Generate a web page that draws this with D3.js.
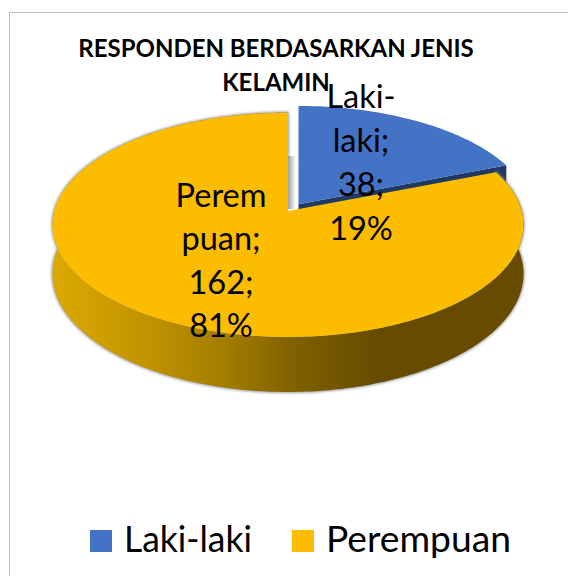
<!DOCTYPE html>
<html>
<head>
<meta charset="utf-8">
<script src="https://cdnjs.cloudflare.com/ajax/libs/d3/7.8.5/d3.min.js"></script>
<style>
    html, body { margin: 0; padding: 0; background: #fff; overflow: hidden; }
    text { font-family: Lato, "Open Sans", sans-serif; fill: #000; }
</style>
</head>
<body>
<div id="chart"></div>
<script>
// chart data
var categories = ["Laki-laki", "Perempuan"];
var counts = [38, 162];
var titleLines = ["RESPONDEN BERDASARKAN JENIS", "KELAMIN"];
// data labels wrap the same way the original chart does
var labelLines = [["Laki-", "laki;", "38;", "19%"], ["Perem", "puan;", "162;", "81%"]];

var width = 568, height = 576;

// pie geometry (tilted disc with a bit of perspective)
var cx = 288, cy = 211;
var radiusX = 233.7, radiusY = 110.4, perspective = 0.1235, depth = 48.2;
var explode = { x: 10.5, y: -6.8 };

var colorTop = ["#4472C4", "#FCBD00"];
var colorCut = "#203864";

var svg = d3.select("#chart").append("svg")
    .attr("width", width)
    .attr("height", height)
    .style("display", "block");

// border, right and bottom edges run off the picture
svg.append("rect")
    .attr("x", 9.5).attr("y", 12.5)
    .attr("width", width + 20).attr("height", height + 20)
    .attr("fill", "#fff")
    .attr("stroke", "#bfbfbf")
    .attr("stroke-width", 1);

var defs = svg.append("defs");

var sideGrad = defs.append("linearGradient")
    .attr("id", "sideGrad")
    .attr("gradientUnits", "userSpaceOnUse")
    .attr("x1", 52).attr("x2", 524).attr("y1", 0).attr("y2", 0);
[[0, "#dca900"], [0.17, "#c59700"], [0.35, "#a67f00"], [0.52, "#7f6000"], [0.69, "#664b00"], [1, "#664b00"]]
    .forEach(function(d) {
        sideGrad.append("stop").attr("offset", d[0]).attr("stop-color", d[1]);
    });

var gapGrad = defs.append("linearGradient").attr("id", "gapGrad");
gapGrad.append("stop").attr("offset", 0).attr("stop-color", "#a0a0a0");
gapGrad.append("stop").attr("offset", 1).attr("stop-color", "#ffffff");

defs.append("filter").attr("id", "soft")
    .attr("x", "-5%").attr("y", "-5%").attr("width", "110%").attr("height", "110%")
    .append("feGaussianBlur").attr("stdDeviation", 1.6);

// angle (clockwise from 12 o'clock) -> picture position on the top face
function project(a) {
    var u = Math.sin(a), v = -Math.cos(a);
    var w = 1 - perspective * v;
    return { x: cx + radiusX * u / w, y: cy + radiusY * v / w, drop: depth / w };
}

var pie = d3.pie().sort(null).value(function(d) { return d; });
var slices = pie(counts);

function arcAngles(d) {
    var n = Math.ceil((d.endAngle - d.startAngle) * 60);
    return d3.range(n + 1).map(function(i) {
        return d.startAngle + (d.endAngle - d.startAngle) * i / n;
    });
}

var line = d3.line().x(function(p) { return p.x; }).y(function(p) { return p.y; });

function topFace(d) {
    var pts = arcAngles(d).map(project);
    pts.push({ x: cx, y: cy });
    return line(pts) + "Z";
}

function outerWall(d) {
    var top = arcAngles(d).map(project);
    var bottom = top.map(function(p) { return { x: p.x, y: p.y + p.drop }; }).reverse();
    return line(top.concat(bottom)) + "Z";
}

function cutWall(a) {
    var p = project(a);
    var centerDrop = depth;
    return line([
        { x: cx, y: cy },
        { x: p.x, y: p.y },
        { x: p.x, y: p.y + p.drop },
        { x: cx, y: cy + centerDrop }
    ]) + "Z";
}

var blue = slices[0], yellow = slices[1];

// exploded slice goes behind the big one
var blueG = svg.append("g")
    .attr("transform", "translate(" + explode.x + "," + explode.y + ")");
blueG.append("path").attr("d", cutWall(blue.endAngle)).attr("fill", colorCut);
blueG.append("path").attr("d", topFace(blue)).attr("fill", colorTop[0]);

// grey shade in the gap between the two slices
svg.append("rect")
    .attr("x", cx)
    .attr("y", cy - 55)
    .attr("width", 8)
    .attr("height", 53)
    .attr("fill", "url(#gapGrad)");

var yellowG = svg.append("g");
yellowG.append("path")
    .attr("d", outerWall(yellow))
    .attr("fill", "#8a8a8a")
    .attr("stroke", "#8a8a8a")
    .attr("stroke-width", 1.5)
    .attr("filter", "url(#soft)");
yellowG.append("path").attr("d", outerWall(yellow)).attr("fill", "url(#sideGrad)");
yellowG.append("path").attr("d", topFace(yellow)).attr("fill", colorTop[1]);

// title
svg.selectAll(".title")
    .data(titleLines)
    .enter().append("text")
    .attr("class", "title")
    .attr("x", 276)
    .attr("y", function(d, i) { return 57 + i * 34; })
    .attr("text-anchor", "middle")
    .attr("font-size", "24px")
    .attr("font-weight", "bold")
    .text(function(d) { return d; });

// data labels
var labelPos = [{ x: 361, y: 108, step: 44 }, { x: 221, y: 207, step: 43.4 }];
labelLines.forEach(function(lines, k) {
    svg.selectAll(".label" + k)
        .data(lines)
        .enter().append("text")
        .attr("class", "label" + k)
        .attr("x", labelPos[k].x)
        .attr("y", function(d, i) { return labelPos[k].y + i * labelPos[k].step; })
        .attr("text-anchor", "middle")
        .attr("font-size", "32.5px")
        .text(function(d) { return d; });
});

// legend
var legendX = [90, 292];
var legendTextWidth = [128, 185];
var legend = svg.selectAll(".legend")
    .data(categories)
    .enter().append("g")
    .attr("class", "legend")
    .attr("transform", function(d, i) { return "translate(" + legendX[i] + ",530)"; });

legend.append("rect")
    .attr("width", 22)
    .attr("height", 22)
    .attr("fill", function(d, i) { return colorTop[i]; });

legend.append("text")
    .attr("x", 34)
    .attr("y", 22)
    .attr("font-size", "36px")
    .attr("textLength", function(d, i) { return legendTextWidth[i]; })
    .attr("lengthAdjust", "spacingAndGlyphs")
    .text(function(d) { return d; });
</script>
</body>
</html>
